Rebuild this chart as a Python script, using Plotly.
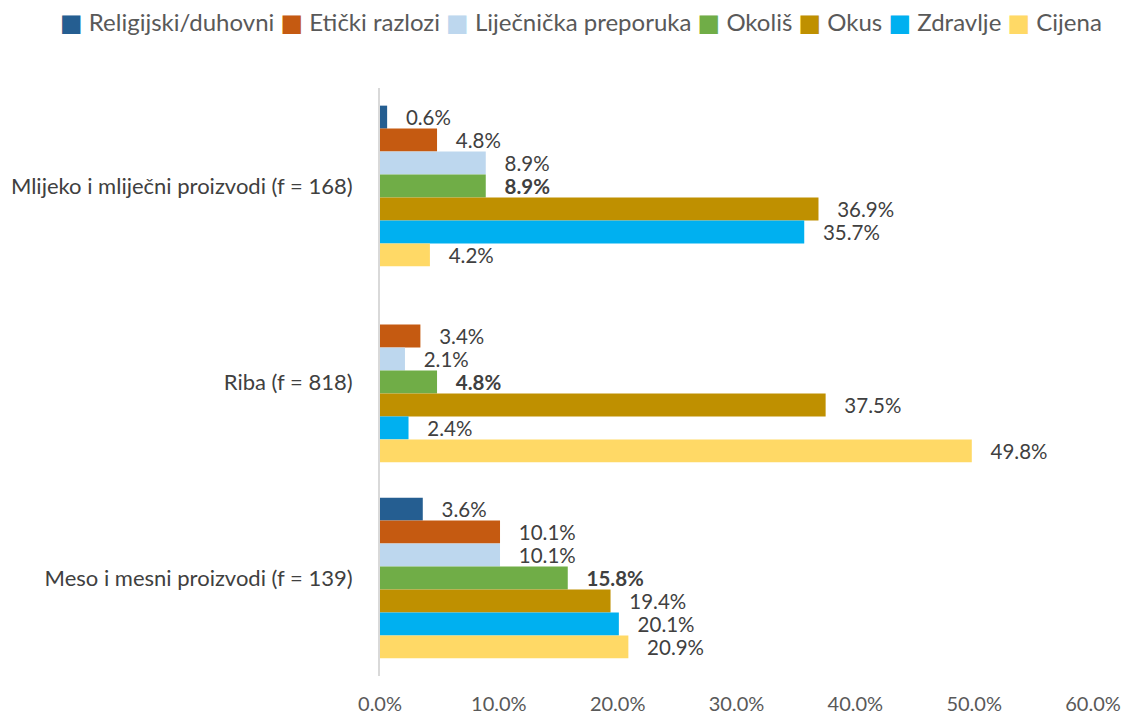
import plotly.graph_objects as go

categories = ["Mlijeko i mliječni proizvodi (f = 168)", "Riba (f = 818)", "Meso i mesni proizvodi (f = 139)"]
series_names = ["Religijski/duhovni", "Etički razlozi", "Liječnička preporuka", "Okoliš", "Okus", "Zdravlje", "Cijena"]
religijski = [0.6, None, 3.6]
eticki = [4.8, 3.4, 10.1]
lijecnicka = [8.9, 2.1, 10.1]
okolis = [8.9, 4.8, 15.8]
okus = [36.9, 37.5, 19.4]
zdravlje = [35.7, 2.4, 20.1]
cijena = [4.2, 49.8, 20.9]
series_values = [religijski, eticki, lijecnicka, okolis, okus, zdravlje, cijena]
colors = ["#255e91", "#c55a11", "#bdd7ee", "#70ad47", "#bf9000", "#00b0f0", "#ffd966"]
bold_series = {"Okoliš"}
x_ticks = [0, 10, 20, 30, 40, 50, 60]
x_tick_labels = ["0.0%", "10.0%", "20.0%", "30.0%", "40.0%", "50.0%", "60.0%"]

FONT = "Lato, Calibri, sans-serif"

fig = go.Figure()
for name, vals, col in zip(series_names, series_values, colors):
    texts = []
    for v in vals:
        if v is None:
            texts.append("")
        elif name in bold_series:
            texts.append("   <b>%.1f%%</b>" % v)
        else:
            texts.append("   %.1f%%" % v)
    fig.add_trace(go.Bar(
        name=name, y=categories, x=vals, orientation="h",
        marker=dict(color=col, line=dict(width=0)),
        text=texts, textposition="outside", textfont=dict(size=20.5, color="#404040", family=FONT),
        cliponaxis=False, constraintext="none", hoverinfo="skip", showlegend=False,
    ))

# Custom compact legend (single line, small squares)
parts = []
for name, col in zip(series_names, colors):
    parts.append("<span style='color:%s;font-family:DejaVu Sans'>■</span> %s" % (col, name))
legend_text = " ".join(parts)
fig.add_annotation(
    text=legend_text, showarrow=False, xanchor="center", yanchor="middle",
    xref="paper", yref="paper", x=(581 - 380) / 713, y=1 + (88 - 22) / 588,
    font=dict(size=24, color="#595959", family=FONT),
)

fig.update_layout(
    barmode="group", bargap=0.18, bargroupgap=0,
    width=1130, height=715,
    margin=dict(l=380, r=37, t=88, b=39),
    plot_bgcolor="white", paper_bgcolor="white",
    font=dict(family=FONT, color="#595959", size=18),
    showlegend=False,
)
fig.update_xaxes(range=[0, 60], tickvals=x_ticks, ticktext=x_tick_labels, showgrid=False,
                 zeroline=False, showline=False, tickfont=dict(size=20, color="#595959"),
                 ticklabelstandoff=14, automargin=False)
fig.update_yaxes(autorange="reversed", showgrid=False, showline=True, linecolor="#d9d9d9", linewidth=2,
                 ticks="", tickfont=dict(size=22, color="#404040"), ticklabelstandoff=21,
                 automargin=False)

fig.write_html("out.html", config={"displayModeBar": False},
               post_script="document.body.style.margin='0px';document.body.style.overflow='hidden';")
